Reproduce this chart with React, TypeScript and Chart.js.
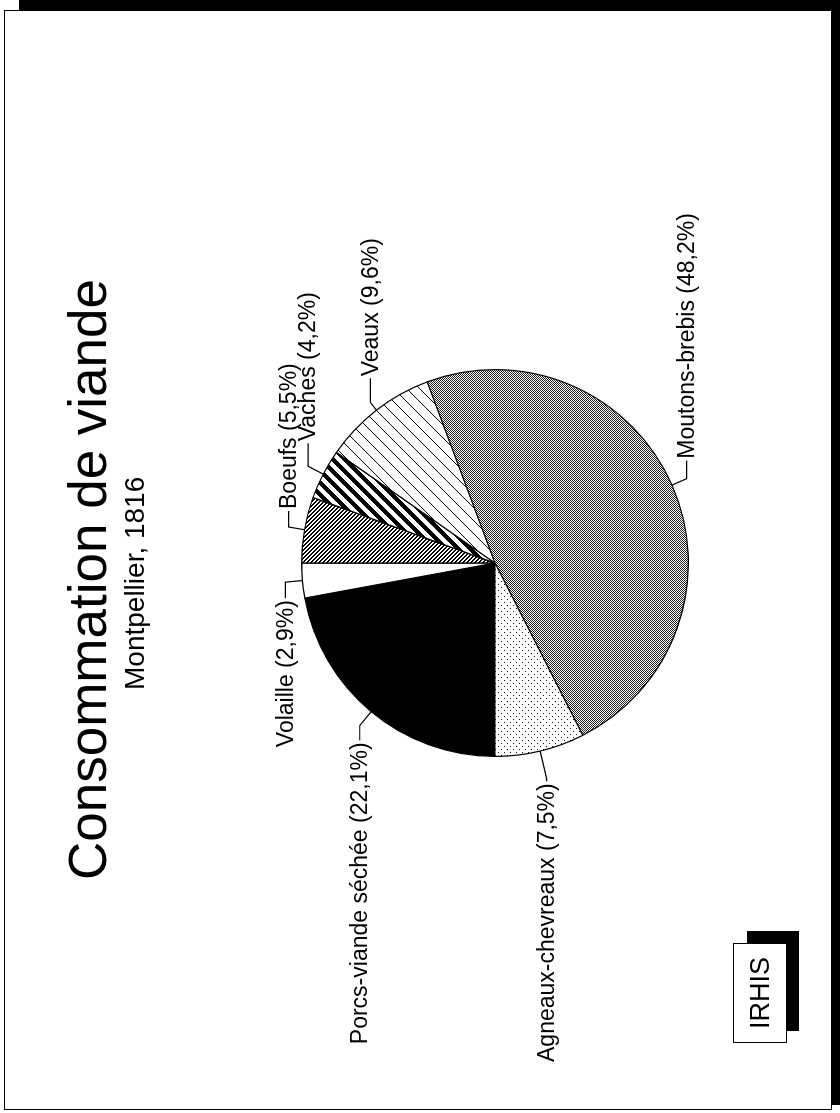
import React, { useEffect, useRef } from 'react';
import { Chart, registerables } from 'chart.js';

Chart.register(...registerables);

// ---- data ----
const categories = [
  'Porcs-viande séchée',
  'Volaille',
  'Boeufs',
  'Vaches',
  'Veaux',
  'Moutons-brebis',
  'Agneaux-chevreaux',
];
const shares = [22.1, 2.9, 5.5, 4.2, 9.6, 48.2, 7.5];
const titleText = 'Consommation de viande';
const subtitleText = 'Montpellier, 1816';
const badgeText = 'IRHIS';

// ---- layout (landscape frame, rotated onto the portrait page) ----
const LW = 1113;
const LH = 840;
const leaderExt = [18, 17, 16, 17, 10, 16, 28];
const leaderRun = [15, 16, 16, 23, 24, 18, 3];
const FONT = '"Liberation Sans", Arial, Helvetica, sans-serif';

function fmt(v: number) {
  return v.toFixed(1).replace('.', ',') + '%';
}

function tile(size: number, draw: (ctx: CanvasRenderingContext2D) => void) {
  const c = document.createElement('canvas');
  c.width = size;
  c.height = size;
  const ctx = c.getContext('2d')!;
  ctx.fillStyle = '#fff';
  ctx.fillRect(0, 0, size, size);
  draw(ctx);
  return c;
}

function diag(s: number, w: number, dir: 'back' | 'fwd') {
  return tile(s, (ctx) => {
    ctx.fillStyle = '#000';
    for (let x = 0; x < s; x++) {
      for (let k = 0; k < w; k++) {
        const y = dir === 'back' ? (x + k) % s : (s - 1 - x + k) % s;
        ctx.fillRect(x, y, 1, 1);
      }
    }
  });
}

function makeFills(ctx: CanvasRenderingContext2D) {
  const stipple = tile(2, (t) => {
    t.fillStyle = '#222';
    t.fillRect(0, 0, 1, 1);
    t.fillRect(1, 1, 1, 1);
  });
  const dots = tile(6, (t) => {
    t.fillStyle = '#111';
    t.fillRect(0, 0, 1, 1);
    t.fillRect(3, 3, 1, 1);
  });
  const pat = (c: HTMLCanvasElement) => ctx.createPattern(c, 'repeat') as CanvasPattern;
  return [
    '#000000', // Porcs
    '#ffffff', // Volaille
    pat(diag(4, 2, 'back')), // Boeufs
    pat(diag(12, 6, 'fwd')), // Vaches
    pat(diag(13, 1, 'fwd')), // Veaux
    pat(stipple), // Moutons
    pat(dots), // Agneaux
  ];
}

const labelPlugin = {
  id: 'outerLabels',
  afterDatasetsDraw(chart: any) {
    const ctx: CanvasRenderingContext2D = chart.ctx;
    const meta = chart.getDatasetMeta(0);
    ctx.save();
    ctx.strokeStyle = '#000';
    ctx.lineWidth = 1.2;
    ctx.fillStyle = '#000';
    ctx.font = `23px ${FONT}`;
    ctx.textBaseline = 'middle';
    meta.data.forEach((arc: any, i: number) => {
      const p = arc.getProps(['startAngle', 'endAngle', 'outerRadius', 'x', 'y'], true);
      const mid = (p.startAngle + p.endAngle) / 2;
      const cx = Math.cos(mid);
      const sy = Math.sin(mid);
      const ex = p.x + cx * p.outerRadius;
      const ey = p.y + sy * p.outerRadius;
      const bx = p.x + cx * (p.outerRadius + leaderExt[i]);
      const by = p.y + sy * (p.outerRadius + leaderExt[i]);
      const side = cx >= 0 ? 1 : -1;
      const tx = bx + side * leaderRun[i];
      ctx.beginPath();
      ctx.moveTo(ex, ey);
      ctx.lineTo(bx, by);
      ctx.lineTo(tx, by);
      ctx.stroke();
      ctx.textAlign = side > 0 ? 'left' : 'right';
      ctx.fillText(`${categories[i]} (${fmt(shares[i])})`, tx + side * 2, by + 1);
    });
    ctx.restore();
  },
};

export default function App() {
  const ref = useRef<HTMLCanvasElement>(null);

  useEffect(() => {
    const canvas = ref.current!;
    const ctx = canvas.getContext('2d')!;
    const fills = makeFills(ctx);
    const chart = new Chart(canvas, {
      type: 'pie',
      data: {
        labels: categories,
        datasets: [
          {
            data: shares,
            backgroundColor: fills as any,
            borderColor: '#000',
            borderWidth: 1.2,
          },
        ],
      },
      options: {
        responsive: false,
        animation: false,
        devicePixelRatio: 1,
        rotation: 270,
        layout: { padding: { left: 356, right: 369, top: 301, bottom: 151 } },
        plugins: {
          legend: { display: false },
          tooltip: { enabled: false },
          title: { display: false },
        },
      },
      plugins: [labelPlugin],
    });
    return () => chart.destroy();
  }, []);

  return (
    <div
      style={{
        position: 'absolute',
        left: 0,
        top: 0,
        width: 840,
        height: 1113,
        overflow: 'hidden',
        background: '#fff',
      }}
    >
      <div
        style={{
          position: 'absolute',
          left: 0,
          top: 0,
          width: LW,
          height: LH,
          transformOrigin: '0 0',
          transform: `translateY(${LW}px) rotate(-90deg)`,
          fontFamily: FONT,
          color: '#000',
        }}
      >
        {/* page frame */}
        <div
          style={{
            position: 'absolute',
            left: 3,
            top: 4,
            width: 1100,
            height: 828,
            border: '1px solid #000',
            boxSizing: 'border-box',
          }}
        />
        <div style={{ position: 'absolute', left: 1103, top: 19, width: 10, height: 821, background: '#000' }} />
        <div style={{ position: 'absolute', left: 8, top: 832, width: 1105, height: 8, background: '#000' }} />

        <canvas
          ref={ref}
          width={LW}
          height={LH}
          style={{ position: 'absolute', left: 0, top: 0, width: LW, height: LH }}
        />

        <div
          style={{
            position: 'absolute',
            left: 233,
            top: 61,
            fontSize: 53,
            lineHeight: '53px',
            whiteSpace: 'nowrap',
          }}
        >
          {titleText}
        </div>
        <div
          style={{
            position: 'absolute',
            left: 423,
            top: 121,
            fontSize: 28,
            lineHeight: '28px',
            whiteSpace: 'nowrap',
          }}
        >
          {subtitleText}
        </div>

        {/* badge */}
        <div style={{ position: 'absolute', left: 82, top: 747, width: 100, height: 52, background: '#000' }} />
        <div
          style={{
            position: 'absolute',
            left: 70,
            top: 733,
            width: 100,
            height: 54,
            border: '1.5px solid #000',
            boxSizing: 'border-box',
            background: '#fff',
            display: 'flex',
            alignItems: 'center',
            justifyContent: 'center',
            fontSize: 27,
            lineHeight: '27px',
          }}
        >
          {badgeText}
        </div>
      </div>
    </div>
  );
}
